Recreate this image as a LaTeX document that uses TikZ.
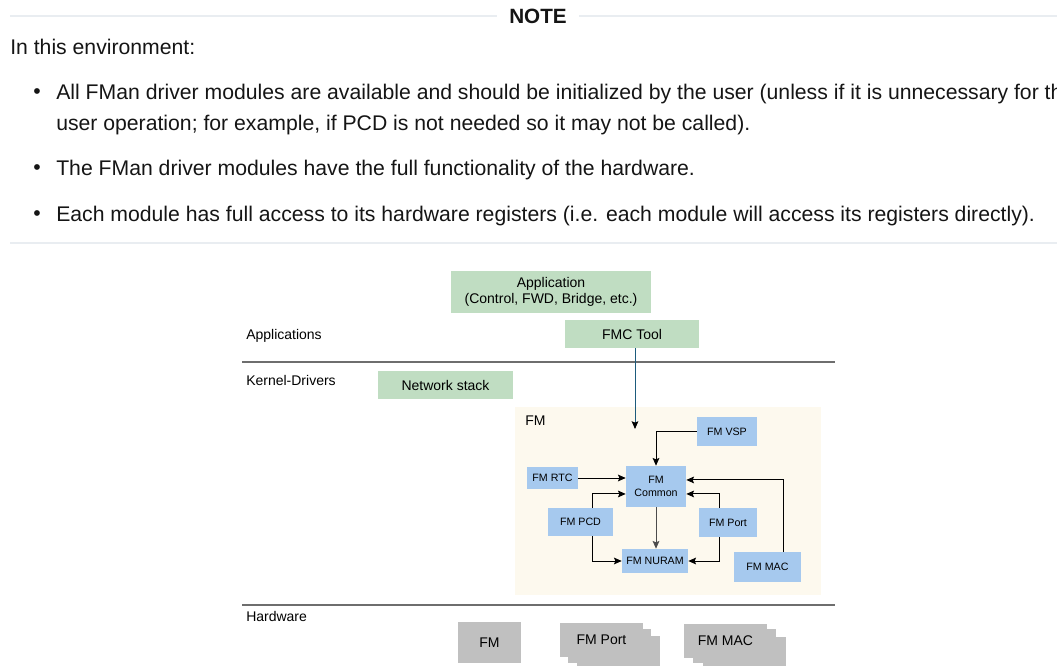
\documentclass[tikz,border=0pt]{standalone}
\usepackage{fontspec}
\setmainfont{Liberation Sans}
\usetikzlibrary{arrows.meta}
\definecolor{appgreen}{HTML}{C0DDC2}
\definecolor{fmblue}{HTML}{A6C9EE}
\definecolor{fmcream}{HTML}{FDF9EE}
\definecolor{hwgray}{HTML}{C0C0C0}
\definecolor{rulegray}{HTML}{6E6E6E}
\definecolor{noteline}{HTML}{E9EDF1}
\definecolor{toolteal}{HTML}{1D5B7C}
\definecolor{bodytext}{HTML}{151515}
\tikzset{gbox/.style={fill=appgreen, inner sep=0pt, align=center,
  font=\fontsize{10.5}{12.5}\selectfont},
  bbox/.style={fill=fmblue, inner sep=0pt, align=center,
  font=\fontsize{8}{9.5}\selectfont},
  hbox/.style={fill=hwgray, inner sep=0pt, minimum width=62.25pt,
  minimum height=25.5pt, font=\fontsize{10.5}{12.5}\selectfont},
  lyr/.style={anchor=west, inner sep=0pt, font=\fontsize{10.5}{12.5}\selectfont},
  body/.style={anchor=west, inner sep=0pt, align=left,
  font=\fontsize{15.9}{23.25}\selectfont, text=bodytext}}

\begin{document}
\begin{tikzpicture}[x=0.75pt, y=-0.75pt, >=Stealth,
  arr/.style={-{Stealth[length=5.8pt, width=5pt, inset=1pt]}, line width=0.7pt}]
  \useasboundingbox (0,0) rectangle (1057,666);
  \clip (0,0) rectangle (1057,666);
  % note text
  \node[inner sep=0pt, font=\bfseries\fontsize{15.5}{18}\selectfont,
    text=bodytext] (note) at (538,16) {NOTE};
  \draw[noteline, line width=2.2pt] (10,16) -- ([xshift=-9pt]note.west);
  \draw[noteline, line width=2.2pt] ([xshift=9pt]note.east) -- (1057,16);
  \node[body] (intro) at (10,47) {In this environment:};
  \node[body] (dot1) at (33,94) {•};
  \node[body] (item1) at (56,110) {All FMan driver modules are available and
    should be initialized by the user (unless if it is unnecessary for the\\
    user operation; for example, if PCD is not needed so it may not be called).};
  \node[body] (dot2) at (33,170) {•};
  \node[body] (item2) at (56,170) {The FMan driver modules have the full
    functionality of the hardware.};
  \node[body] (dot3) at (33,216) {•};
  \node[body] (item3) at (56,216) {Each module has full access to its hardware
    registers (i.e. each module will access its registers directly).};
  \draw[noteline, line width=2.2pt] (10,243) -- (1057,243);
  % layers
  \node[lyr] (lapp) at (246,336) {Applications};
  \node[lyr] (lkern) at (246,380) {Kernel-Drivers};
  \node[lyr] (lhw) at (246,616) {Hardware};
  \draw[rulegray, line width=1.1pt] (242,362) -- (835,362);
  \draw[rulegray, line width=1.1pt] (242,605) -- (835,605);
  \node[gbox, minimum width=150pt, minimum height=31.5pt] (app) at (551,292)
    {Application\\(Control, FWD, Bridge, etc.)};
  \node[gbox, minimum width=100.5pt, minimum height=21pt] (fmc) at (632,334)
    {FMC Tool};
  \node[gbox, minimum width=101.25pt, minimum height=21pt] (net) at (445.5,385)
    {Network stack};
  % FM block
  \node[fill=fmcream, inner sep=0pt, minimum width=229.5pt,
    minimum height=141pt] (fmreg) at (668,501) {};
  \node[lyr] (fmlbl) at (525,421) {FM};
  \node[bbox, minimum width=45pt, minimum height=21.75pt] (vsp) at (727,431.5)
    {FM VSP};
  \node[bbox, minimum width=45pt, minimum height=30.75pt] (common) at (656,486.5)
    {FM\\Common};
  \node[bbox, minimum width=38.25pt, minimum height=16.5pt] (rtc) at (552.5,478)
    {FM RTC};
  \node[bbox, minimum width=48.75pt, minimum height=21pt] (pcd) at (580.5,522)
    {FM PCD};
  \node[bbox, minimum width=43.5pt, minimum height=21.75pt] (port) at (728,522.5)
    {FM Port};
  \node[bbox, minimum width=49.5pt, minimum height=18pt] (nuram) at (655,561)
    {FM NURAM};
  \node[bbox, minimum width=50.25pt, minimum height=22.5pt] (mac) at (767.5,567)
    {FM MAC};
  \coordinate (fmin) at (635,429);
  \draw[arr, toolteal, -{Stealth[length=5.8pt, width=5pt, inset=1pt, black]}]
    (fmin |- fmc.south) -- (fmin);
  \draw[arr] (vsp.west) -| (common.north);
  \draw[arr] (rtc.east) -- (common.west |- rtc.east);
  \draw[arr] ([xshift=8.6pt]pcd.north) |- ([yshift=-5.6pt]common.west);
  \draw[arr] ([xshift=8.6pt]pcd.south) |- (nuram.west);
  \draw[arr, black!70] (common.south) -- (common.south |- nuram.north);
  \draw[arr] ([xshift=-6.75pt]port.north) |- ([yshift=-5.6pt]common.east);
  \draw[arr] ([xshift=-6.75pt]port.south) |- (nuram.east);
  \draw[arr] ([xshift=11.6pt]mac.north) |- ([yshift=4.9pt]common.east);
  % hardware
  \node[hbox, minimum width=47.25pt, minimum height=30.75pt] (hwfm)
    at (489.5,642.5) {FM};
  \node[hbox] (hwport3) at (618.5,653) {};
  \node[hbox] (hwport2) at (609.5,646) {};
  \node[hbox] (hwport) at (601.5,640) {FM Port};
  \node[hbox] (hwmac3) at (744.5,654) {};
  \node[hbox] (hwmac2) at (734.5,646) {};
  \node[hbox] (hwmac) at (725.5,641) {FM MAC};
\end{tikzpicture}
\end{document}
